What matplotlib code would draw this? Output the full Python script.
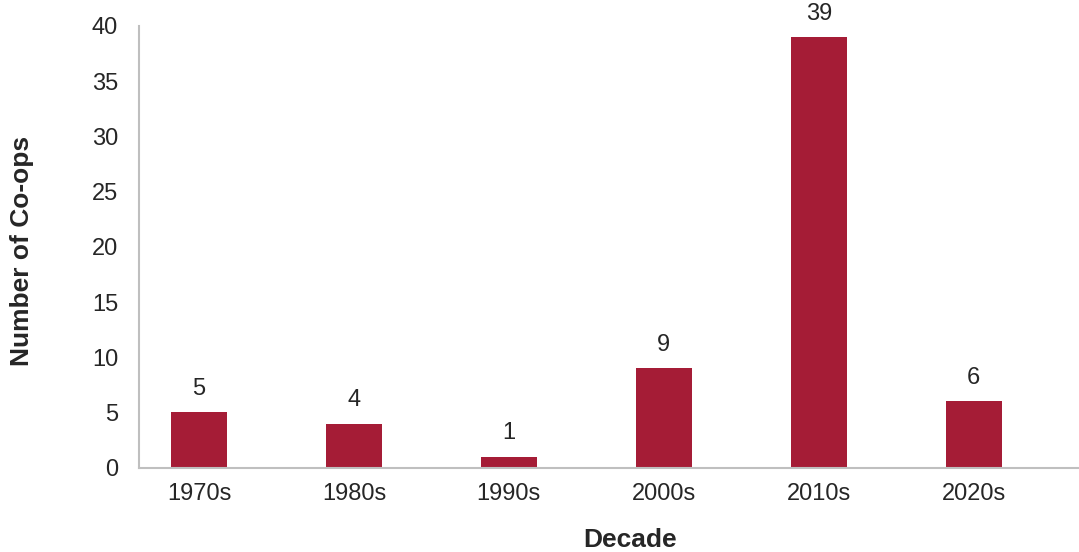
import numpy as np
import matplotlib.pyplot as plt

decades = ['1970s', '1980s', '1990s', '2000s', '2010s', '2020s']
counts = [5, 4, 1, 9, 39, 6]

bar_color = '#A51C36'
text_color = '#262626'
spine_color = '#BFBFBF'

plt.rcParams['font.family'] = ['Liberation Sans', 'DejaVu Sans']

fig = plt.figure(figsize=(10.79, 5.52), dpi=100)
ax = fig.add_axes([139/1079, 1 - 467.7/552, 1 - 139/1079, (467.7 - 26)/552])

x = np.arange(len(decades))
bars = ax.bar(x, counts, width=0.36, color=bar_color)

for xi, v in zip(x, counts):
	ax.annotate(str(v), (xi, v), xytext=(0, 9), textcoords='offset points',
				ha='center', va='bottom', fontsize=17, color=text_color)

ax.set_xlim(-0.387, 5.68)
ax.set_ylim(0, 40)
ax.set_yticks(range(0, 41, 5))
ax.set_xticks(x)
ax.set_xticklabels(decades)
ax.tick_params(axis='both', length=0, labelsize=17, colors=text_color)
ax.tick_params(axis='x', pad=11)
ax.tick_params(axis='y', pad=15)

ax.spines['top'].set_visible(False)
ax.spines['right'].set_visible(False)
ax.spines['left'].set_color(spine_color)
ax.spines['bottom'].set_color(spine_color)
ax.spines['left'].set_linewidth(1.5)
ax.spines['bottom'].set_linewidth(1.5)

ax.set_xlabel('Decade', fontsize=19, fontweight='bold', color=text_color)
ax.set_ylabel('Number of Co-ops', fontsize=19, fontweight='bold', color=text_color)
ax.xaxis.label.set_va('center')
ax.yaxis.label.set_va('center')
ax.xaxis.set_label_coords(0.522, -0.1637)
ax.yaxis.set_label_coords(-0.1245, 0.49)

fig.savefig('out.png', dpi=100)
